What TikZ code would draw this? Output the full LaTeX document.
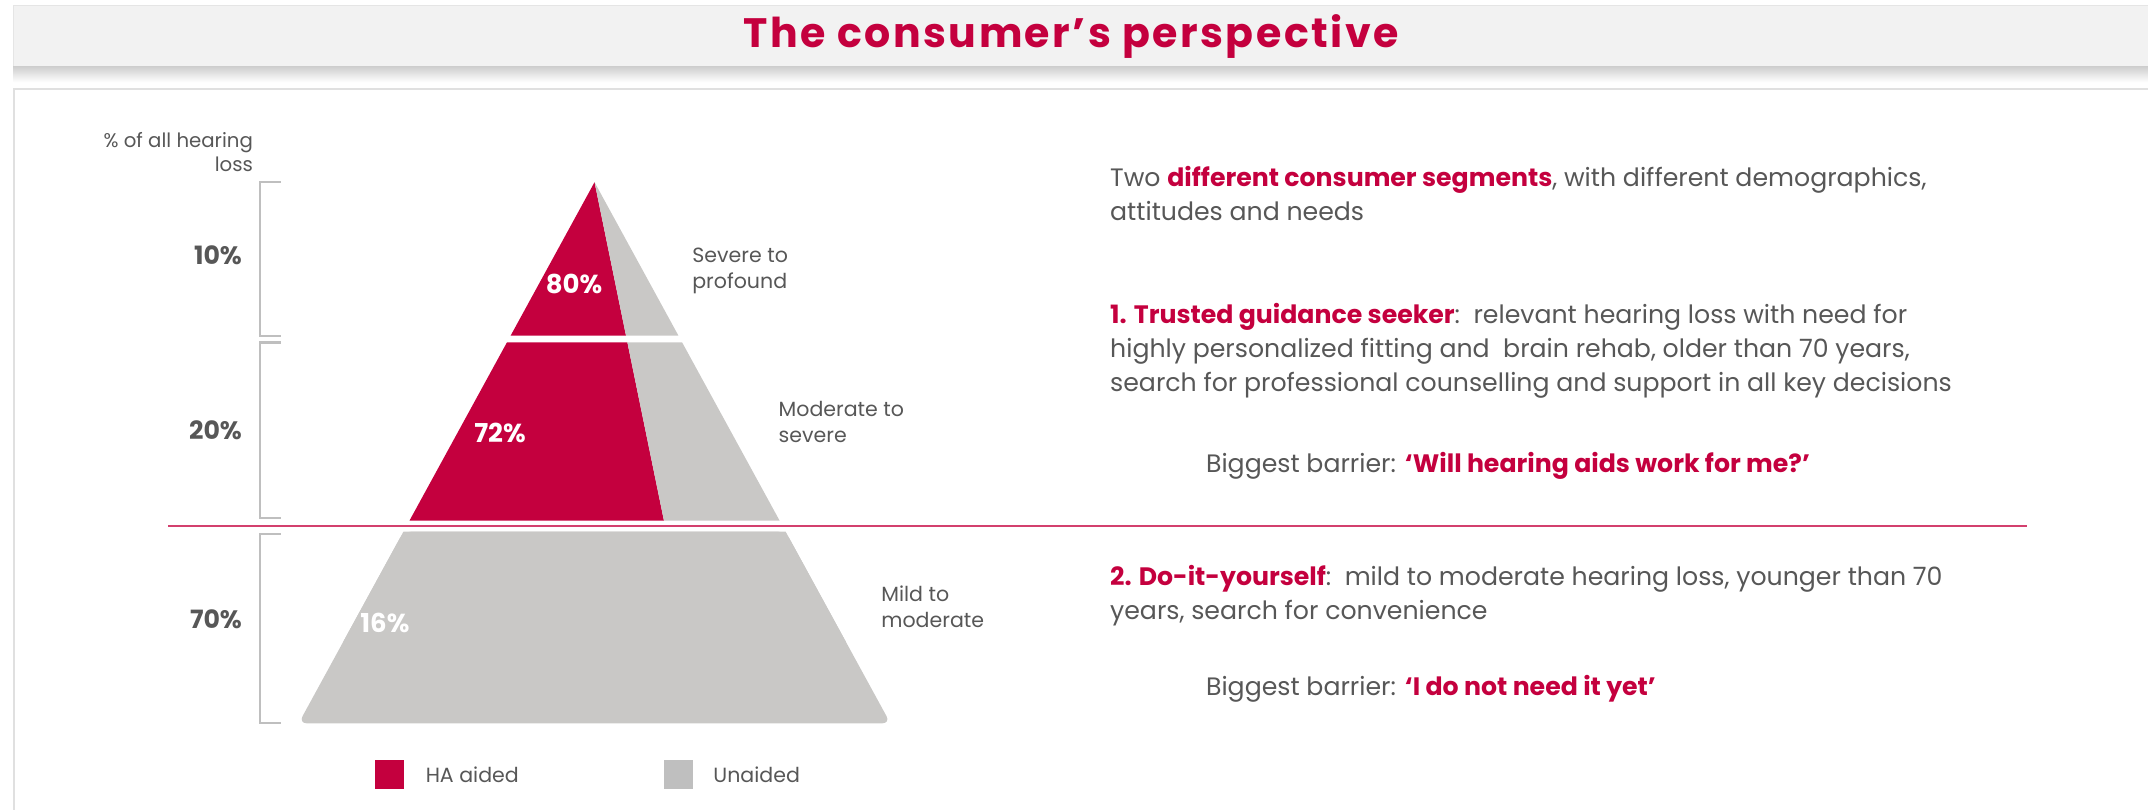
\documentclass[tikz,border=0pt]{standalone}
\usepackage{fontspec}
\setmainfont{Poppins}
\usepackage{tikz}
\usetikzlibrary{calc,positioning}
\definecolor{crimson}{HTML}{C4003E}
\definecolor{unaid}{HTML}{C9C8C6}
\definecolor{txtgray}{HTML}{575757}
\newcommand{\hl}[1]{\textcolor{crimson}{\bfseries #1}}

\begin{document}
\begin{tikzpicture}[x=0.5pt,y=-0.5pt,
  body/.style={anchor=west, inner sep=0pt, align=left, text=txtgray, font=\fontsize{9.2}{12.5}\selectfont},
  small/.style={anchor=west, inner sep=0pt, align=left, text=txtgray, font=\fontsize{7.5}{9.5}\selectfont},
  share/.style={anchor=east, inner sep=0pt, text=txtgray, font=\fontsize{9.2}{11}\selectfont\bfseries},
  inpct/.style={inner sep=0pt, text=white, font=\fontsize{9.5}{11}\selectfont\bfseries},
  bracket/.style={draw=black!25, line width=0.8pt},
  keybox/.style={minimum size=10.5pt, inner sep=0pt}]
  \useasboundingbox (0,0) rectangle (1568,591);
  \clip (0,0) rectangle (1568,591);
  \shade[top color=black!20, bottom color=white] (10,48) rectangle (1568,60);
  \fill[black!5] (10,4) rectangle (1568,48);
  \draw[black!10] (10,48) -- (10,4) -- (1568,4);
  \node[text=crimson, font=\fontsize{15}{18}\selectfont\bfseries\addfontfeature{LetterSpace=6}] (title) at (782,27) {The consumer’s perspective};
  \draw[black!12, line width=0.8pt] (10,600) -- (10,65) -- (1600,65);

  \node[small, anchor=east, align=right, font=\fontsize{7.2}{8.5}\selectfont] (axis) at (185,111) {\% of all hearing\\loss};
  \draw[bracket] (205,133) -- (190,133) -- (190,245) -- (205,245);
  \draw[bracket] (205,250) -- (190,250) -- (190,378) -- (205,378);
  \draw[bracket] (205,390) -- (190,390) -- (190,528) -- (205,528);
  \node[share] (s10) at (177,186) {10\%};
  \node[share] (s20) at (177,314) {20\%};
  \node[share] (s70) at (177,452) {70\%};

  \coordinate (apex) at (434,133);
  \coordinate (bl) at (218,528);
  \coordinate (br) at (650,528);
  \coordinate (sp) at (515,528);
  \fill[crimson] (apex) -- ($(apex)!0.2835!(bl)$) -- ($(apex)!0.2835!(sp)$) -- cycle;
  \fill[unaid] (apex) -- ($(apex)!0.2835!(sp)$) -- ($(apex)!0.2835!(br)$) -- cycle;
  \fill[crimson] ($(apex)!0.2962!(bl)$) -- ($(apex)!0.6253!(bl)$) -- ($(apex)!0.6253!(sp)$) -- ($(apex)!0.2962!(sp)$) -- cycle;
  \fill[unaid] ($(apex)!0.2962!(sp)$) -- ($(apex)!0.6253!(sp)$) -- ($(apex)!0.6253!(br)$) -- ($(apex)!0.2962!(br)$) -- cycle;
  \fill[unaid, rounded corners=3pt] ($(apex)!0.6456!(bl)$) -- (bl) -- (br) -- ($(apex)!0.6456!(br)$) -- cycle;
  \fill[unaid] ($(apex)!0.6456!(bl)$) -- ($(apex)!0.85!(bl)$) -- ($(apex)!0.85!(br)$) -- ($(apex)!0.6456!(br)$) -- cycle;
  \node[inpct] (p80) at (419,207) {80\%};
  \node[inpct] (p72) at (365,316) {72\%};
  \node[inpct] (p16) at (281,455) {16\%};

  \node[small] (sev) at (505,198) {Severe to\\profound};
  \node[small] (mod) at (568,308) {Moderate to\\severe};
  \node[small] (mild) at (643,443) {Mild to\\moderate};

  \draw[crimson!75, line width=0.8pt] (123,384) -- (1480,384);

  \node[body] (intro) at (810,141) {Two \hl{different consumer segments}, with different demographics,\\attitudes and needs};
  \node[body] (seg1) at (810,256) {\hl{1. Trusted guidance seeker}:\ \ relevant hearing loss with need for\\highly personalized fitting and\ \ brain rehab, older than 70 years,\\search for professional counselling and support in all key decisions};
  \node[body] (bar1) at (880,340) {Biggest barrier: \hl{‘Will hearing aids work for me?’}};
  \node[body] (seg2) at (810,435) {\hl{2. Do-it-yourself}:\ \ mild to moderate hearing loss, younger than 70\\years, search for convenience};
  \node[body] (bar2) at (880,503) {Biggest barrier: \hl{‘I do not need it yet’}};

  \node[keybox, fill=crimson] (kha) at (284.5,565.5) {};
  \node[small, right=7.5pt of kha] (lha) {HA aided};
  \node[keybox, fill=black!25] (kun) at (495.5,565.5) {};
  \node[small, right=7pt of kun] (lun) {Unaided};
\end{tikzpicture}
\end{document}
